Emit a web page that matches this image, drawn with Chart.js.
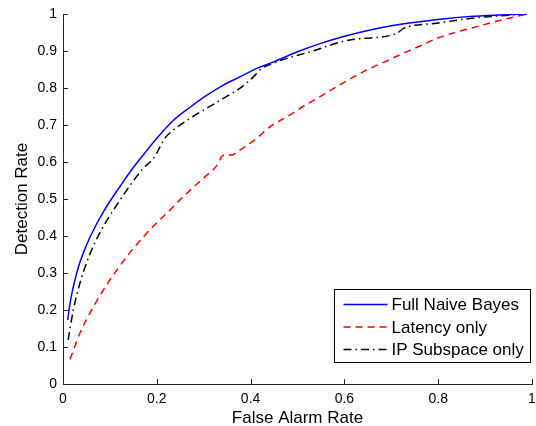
<!DOCTYPE html>
<html>
<head>
<meta charset="utf-8">
<script src="https://cdn.jsdelivr.net/npm/chart.js@4.4.1/dist/chart.umd.min.js"></script>
<style>
  html, body { margin: 0; padding: 0; background: #fff; }
  #wrap { width: 536px; height: 426px; }
</style>
</head>
<body>
<div id="wrap"><canvas id="roc"></canvas></div>
<script>
// ROC 곡선 데이터
const seriesNames = ['Full Naive Bayes', 'Latency only', 'IP Subspace only'];

const fullFpr = [0.01, 0.015, 0.022, 0.033, 0.043, 0.058, 0.086, 0.122, 0.15, 0.178, 0.2, 0.235,
    0.271, 0.306, 0.342, 0.377, 0.413, 0.448, 0.5, 0.548, 0.6, 0.655, 0.7, 0.761, 0.82, 0.868, 0.93, 0.989];
const fullTpr = [0.173, 0.218, 0.263, 0.317, 0.353, 0.398, 0.465, 0.535, 0.585, 0.63, 0.664, 0.712,
    0.748, 0.78, 0.808, 0.83, 0.853, 0.87, 0.898, 0.92, 0.94, 0.957, 0.968, 0.979, 0.988, 0.993, 0.997, 1.0];

const latFpr = [0.015, 0.036, 0.065, 0.1, 0.136, 0.178, 0.228, 0.249, 0.271, 0.299,
    0.331, 0.338, 0.345, 0.36, 0.377, 0.413, 0.441, 0.477, 0.512, 0.55, 0.584, 0.62, 0.655, 0.69, 0.726,
    0.76, 0.797, 0.83, 0.868, 0.9, 0.939, 0.989];
const latTpr = [0.067, 0.137, 0.209, 0.281, 0.344, 0.407, 0.47, 0.497, 0.524, 0.556,
    0.596, 0.614, 0.619, 0.619, 0.632, 0.664, 0.695, 0.722, 0.75, 0.778, 0.804, 0.83, 0.853, 0.873, 0.894,
    0.913, 0.934, 0.948, 0.961, 0.972, 0.985, 1.0];

const ipFpr = [0.011, 0.022, 0.036, 0.058, 0.079, 0.1, 0.136, 0.171, 0.193, 0.207, 0.217, 0.235, 0.271, 0.306,
    0.342, 0.377, 0.406, 0.42, 0.448, 0.527, 0.612, 0.711, 0.726, 0.797, 0.868, 0.93, 0.989];
const ipTpr = [0.119, 0.2, 0.272, 0.353, 0.41, 0.455, 0.524, 0.583, 0.61, 0.641, 0.664, 0.686, 0.718, 0.745,
    0.772, 0.799, 0.83, 0.849, 0.867, 0.898, 0.93, 0.947, 0.961, 0.975, 0.988, 0.995, 1.0];

const tickValues = [0, 0.2, 0.4, 0.6, 0.8, 1];
const yTickValues = [0, 0.1, 0.2, 0.3, 0.4, 0.5, 0.6, 0.7, 0.8, 0.9, 1];

const FONT = "'Liberation Sans', Arial, Helvetica, sans-serif";
const AXIS_COLOR = '#262626';

function toPoints(xs, ys) {
    return xs.map((x, i) => ({ x: x, y: ys[i] }));
}

// MATLAB처럼 안쪽으로 향하는 눈금
const innerTicks = {
    id: 'innerTicks',
    afterDraw(chart) {
        const ctx = chart.ctx;
        const xs = chart.scales.x, ys = chart.scales.y;
        const area = chart.chartArea;
        ctx.save();
        ctx.strokeStyle = AXIS_COLOR;
        ctx.lineWidth = 1;
        ctx.beginPath();
        tickValues.forEach(v => {
            const px = Math.round(xs.getPixelForValue(v)) + 0.5;
            ctx.moveTo(px, area.bottom);
            ctx.lineTo(px, area.bottom - 5);
        });
        yTickValues.forEach(v => {
            const py = Math.round(ys.getPixelForValue(v)) + 0.5;
            ctx.moveTo(area.left, py);
            ctx.lineTo(area.left + 5, py);
        });
        ctx.stroke();
        ctx.restore();
    }
};

// 테두리 있는 범례 (오른쪽 아래)
const boxLegend = {
    id: 'boxLegend',
    afterDraw(chart) {
        const ctx = chart.ctx;
        const area = chart.chartArea;
        const w = 196, h = 73;
        const x0 = Math.round(area.right - 2 - w) + 0.5;
        const y0 = Math.round(area.bottom - 22 - h) + 0.5;
        ctx.save();
        ctx.fillStyle = '#fff';
        ctx.fillRect(x0, y0, w, h);
        ctx.strokeStyle = '#000';
        ctx.lineWidth = 1;
        ctx.setLineDash([]);
        ctx.strokeRect(x0, y0, w, h);
        ctx.font = '17px ' + FONT;
        ctx.textBaseline = 'middle';
        chart.data.datasets.forEach((ds, i) => {
            const cy = y0 + 15 + i * 22.5;
            ctx.strokeStyle = ds.borderColor;
            ctx.lineWidth = ds.borderWidth;
            ctx.setLineDash(ds.borderDash || []);
            ctx.beginPath();
            ctx.moveTo(x0 + 9, cy);
            ctx.lineTo(x0 + 53, cy);
            ctx.stroke();
            ctx.fillStyle = '#000';
            ctx.fillText(ds.label, x0 + 57, cy + 1);
        });
        ctx.restore();
    }
};

const ctx = document.getElementById('roc').getContext('2d');
new Chart(ctx, {
    type: 'scatter',
    data: {
        datasets: [{
            label: seriesNames[0],
            data: toPoints(fullFpr, fullTpr),
            borderColor: '#0000ff',
            borderWidth: 1.5,
            showLine: true,
            pointRadius: 0,
            cubicInterpolationMode: 'monotone'
        }, {
            label: seriesNames[1],
            data: toPoints(latFpr, latTpr),
            borderColor: '#ff0000',
            borderWidth: 1.5,
            borderDash: [7, 5],
            showLine: true,
            pointRadius: 0,
            cubicInterpolationMode: 'monotone'
        }, {
            label: seriesNames[2],
            data: toPoints(ipFpr, ipTpr),
            borderColor: '#000000',
            borderWidth: 1.5,
            borderDash: [8, 4, 1.5, 4],
            showLine: true,
            pointRadius: 0,
            cubicInterpolationMode: 'monotone'
        }]
    },
    options: {
        responsive: true,
        maintainAspectRatio: false,
        animation: false,
        layout: { padding: { top: 14, right: 4, left: 0, bottom: 0 } },
        plugins: {
            legend: { display: false },
            tooltip: { enabled: false }
        },
        scales: {
            x: {
                type: 'linear',
                min: 0,
                max: 1,
                afterBuildTicks: s => { s.ticks = tickValues.map(v => ({ value: v })); },
                afterFit: s => { s.height = 42; s.paddingLeft = 0; s.paddingRight = 0; },
                grid: { display: false, drawTicks: false },
                border: { display: true, color: AXIS_COLOR, width: 1 },
                ticks: {
                    color: '#000',
                    font: { family: FONT, size: 14 },
                    padding: 7,
                    maxRotation: 0,
                    callback: v => String(v)
                },
                title: {
                    display: true,
                    text: 'False Alarm Rate',
                    color: '#000',
                    font: { family: FONT, size: 17 },
                    padding: { top: 0, bottom: -3 }
                }
            },
            y: {
                type: 'linear',
                min: 0,
                max: 1,
                afterBuildTicks: s => { s.ticks = yTickValues.map(v => ({ value: v })); },
                afterFit: s => { s.width = 63; s.paddingTop = 0; s.paddingBottom = 0; },
                grid: { display: false, drawTicks: false },
                border: { display: true, color: AXIS_COLOR, width: 1 },
                ticks: {
                    color: '#000',
                    font: { family: FONT, size: 14 },
                    padding: 6,
                    callback: v => String(v)
                },
                title: {
                    display: true,
                    text: 'Detection Rate',
                    color: '#000',
                    font: { family: FONT, size: 17 },
                    padding: { top: 12, bottom: 0 }
                }
            }
        }
    },
    plugins: [innerTicks, boxLegend]
});
</script>
</body>
</html>
